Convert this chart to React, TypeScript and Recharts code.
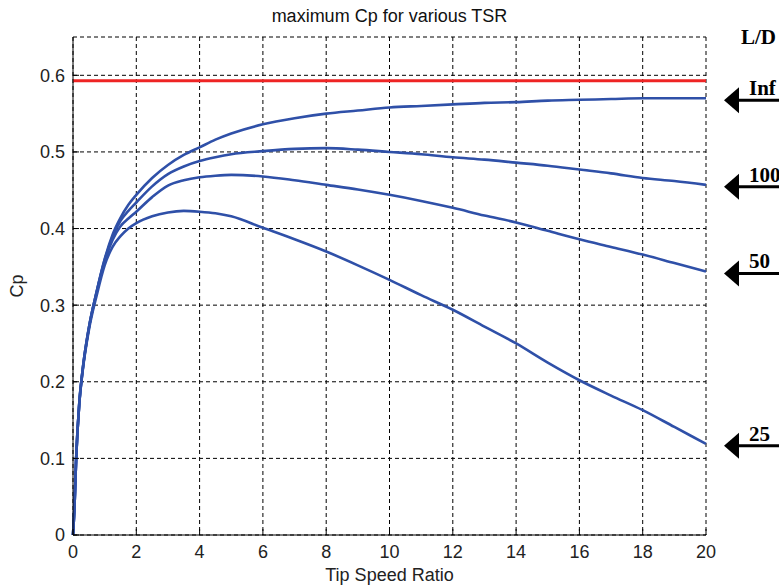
import {
  CartesianGrid,
  Line,
  LineChart,
  ReferenceDot,
  ReferenceLine,
  XAxis,
  YAxis,
} from "recharts";

const tsrValues = [0, 0.05, 0.1, 0.2, 0.3, 0.5, 0.75, 1, 1.25, 1.5, 1.75, 2, 2.5, 3, 3.5, 4, 4.5, 5, 6, 7, 8, 9, 10, 11, 12, 13, 14, 15, 16, 17, 18, 19, 20];
const cpInf = [0, 0.04, 0.1, 0.173, 0.214, 0.27, 0.318, 0.36, 0.392, 0.414, 0.431, 0.444, 0.466, 0.483, 0.496, 0.506, 0.516, 0.524, 0.536, 0.544, 0.55, 0.554, 0.558, 0.56, 0.562, 0.564, 0.565, 0.567, 0.568, 0.569, 0.57, 0.57, 0.57];
const cp100 = [0, 0.04, 0.1, 0.173, 0.214, 0.27, 0.318, 0.359, 0.389, 0.41, 0.423, 0.434, 0.455, 0.471, 0.481, 0.488, 0.493, 0.497, 0.501, 0.504, 0.505, 0.503, 0.5, 0.497, 0.493, 0.49, 0.486, 0.482, 0.477, 0.472, 0.466, 0.462, 0.457];
const cp50 = [0, 0.04, 0.1, 0.173, 0.214, 0.27, 0.317, 0.357, 0.385, 0.403, 0.413, 0.422, 0.441, 0.456, 0.463, 0.467, 0.469, 0.47, 0.468, 0.463, 0.457, 0.451, 0.444, 0.436, 0.427, 0.417, 0.408, 0.397, 0.386, 0.376, 0.366, 0.355, 0.344];
const cp25 = [0, 0.04, 0.1, 0.172, 0.212, 0.267, 0.313, 0.352, 0.376, 0.39, 0.4, 0.407, 0.416, 0.421, 0.423, 0.422, 0.42, 0.416, 0.401, 0.386, 0.37, 0.352, 0.333, 0.313, 0.294, 0.272, 0.25, 0.225, 0.202, 0.182, 0.163, 0.141, 0.119];
const betzLimit = 0.593;

const xTicks = [0, 2, 4, 6, 8, 10, 12, 14, 16, 18, 20];
const yTicks = [0, 0.1, 0.2, 0.3, 0.4, 0.5, 0.6];

const series = [
  { key: "inf", label: "Inf", values: cpInf },
  { key: "ld100", label: "100", values: cp100 },
  { key: "ld50", label: "50", values: cp50 },
  { key: "ld25", label: "25", values: cp25 },
];

const data = tsrValues.map((tsr, i) => {
  const row: Record<string, number> = { tsr };
  series.forEach((s) => (row[s.key] = s.values[i]));
  return row;
});

const sans = "'Liberation Sans', Arial, sans-serif";
const serif = "'Liberation Serif', 'Times New Roman', serif";
const blue = "#2F50A8";

function Arrow(props: any, label: string) {
  const { cx, cy } = props;
  const y = cy + 2;
  return (
    <g>
      <polygon points={`${cx + 18},${y} ${cx + 33},${y - 13} ${cx + 33},${y + 13}`} fill="#000" />
      <line x1={cx + 32} x2={cx + 80} y1={y} y2={y} stroke="#000" strokeWidth={3} />
      <text x={cx + 43} y={y - 5} fontFamily={serif} fontWeight="bold" fontSize={21} fill="#000">
        {label}
      </text>
    </g>
  );
}

export default function App() {
  return (
    <div style={{ position: "absolute", left: 0, top: 0, width: 779, height: 588, background: "#fff" }}>
      <div
        style={{
          position: "absolute",
          left: 73,
          width: 633,
          top: 6,
          lineHeight: "20px",
          textAlign: "center",
          fontFamily: sans,
          fontSize: 18,
          color: "#111",
        }}
      >
        maximum Cp for various TSR
      </div>
      <div
        style={{
          position: "absolute",
          left: 741,
          top: 25,
          lineHeight: "24px",
          fontFamily: serif,
          fontWeight: "bold",
          fontSize: 21,
          color: "#000",
          whiteSpace: "nowrap",
        }}
      >
        L/D
      </div>
      <LineChart width={779} height={588} data={data} margin={{ top: 37, right: 73, bottom: 0, left: 0 }}>
        <CartesianGrid stroke="#000" strokeDasharray="4 3" strokeWidth={1} />
        <XAxis
          dataKey="tsr"
          type="number"
          domain={[0, 20]}
          ticks={xTicks}
          height={53}
          tickSize={-6}
          tickMargin={16}
          stroke="#000"
          tick={{ fill: "#222", fontFamily: sans, fontSize: 18 }}
          label={{ value: "Tip Speed Ratio", position: "insideBottom", offset: 7, fill: "#222", fontFamily: sans, fontSize: 18 }}
        />
        <XAxis xAxisId="top" orientation="top" type="number" domain={[0, 20]} ticks={xTicks} height={0} tickSize={-6} tick={false} stroke="#000" />
        <YAxis
          type="number"
          domain={[0, 0.65]}
          ticks={yTicks}
          width={73}
          tickSize={-6}
          tickMargin={14}
          stroke="#000"
          tick={{ fill: "#222", fontFamily: sans, fontSize: 18 }}
          label={{ value: "Cp", angle: -90, position: "center", dx: -20, fill: "#222", fontFamily: sans, fontSize: 18 }}
        />
        <YAxis yAxisId="right" orientation="right" type="number" domain={[0, 0.65]} ticks={yTicks} width={0} tickSize={-6} tick={false} stroke="#000" />
        <ReferenceLine y={betzLimit} stroke="#EE2424" strokeWidth={3} />
        {series.map((s) => (
          <Line
            key={s.key}
            dataKey={s.key}
            type="monotone"
            stroke={blue}
            strokeWidth={2.6}
            dot={false}
            isAnimationActive={false}
          />
        ))}
        {series.map((s) => (
          <ReferenceDot
            key={`arrow-${s.key}`}
            x={20}
            y={s.values[s.values.length - 1]}
            r={0}
            shape={(p: any) => Arrow(p, s.label)}
          />
        ))}
      </LineChart>
    </div>
  );
}
